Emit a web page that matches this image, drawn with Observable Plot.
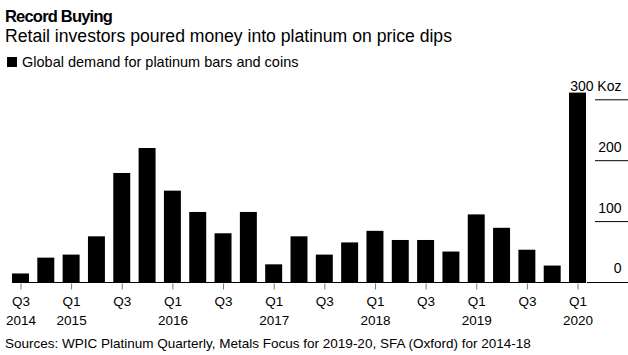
<!DOCTYPE html>
<html><head><meta charset="utf-8">
<script src="https://cdn.jsdelivr.net/npm/d3@7"></script>
<script src="https://cdn.jsdelivr.net/npm/@observablehq/plot@0.6"></script>
<style>
body{margin:0;background:#fff;font-family:"Liberation Sans",Arial,sans-serif;color:#000;}
#wrap{position:relative;width:628px;height:355px;overflow:hidden;background:#fff;}
.t{position:absolute;left:5px;line-height:1;white-space:nowrap;}
#title{top:7.5px;font-size:16.5px;font-weight:bold;letter-spacing:-0.8px;}
#sub{top:28px;font-size:17.6px;}
#leg{top:54.5px;left:22px;font-size:14.5px;}
#sq{position:absolute;left:7px;top:57px;width:10px;height:10px;background:#000;}
#src{top:337px;font-size:13.5px;}
#chart{position:absolute;left:0;top:72px;}
</style></head><body>
<div id="wrap">
<div class="t" id="title">Record Buying</div>
<div class="t" id="sub">Retail investors poured money into platinum on price dips</div>
<div id="sq"></div>
<div class="t" id="leg">Global demand for platinum bars and coins</div>
<div id="chart"></div>
<div class="t" id="src">Sources: WPIC Platinum Quarterly, Metals Focus for 2019-20, SFA (Oxford) for 2014-18</div>
</div>
<script>
const quarters = ["Q3 2014","Q4 2014",
  "Q1 2015","Q2 2015","Q3 2015","Q4 2015",
  "Q1 2016","Q2 2016","Q3 2016","Q4 2016",
  "Q1 2017","Q2 2017","Q3 2017","Q4 2017",
  "Q1 2018","Q2 2018","Q3 2018","Q4 2018",
  "Q1 2019","Q2 2019","Q3 2019","Q4 2019",
  "Q1 2020"];
const demand = [14,40, 45,75,179,220, 150,115,80,115, 29,75,45,65, 84,69,69,50, 111,89,53,27, 311];
const xTicks = ["Q3 2014","Q1 2015","Q3 2015","Q1 2016","Q3 2016","Q1 2017","Q3 2017","Q1 2018","Q3 2018","Q1 2019","Q3 2019","Q1 2020"];
const xTickLabels = ["Q3\n2014","Q1\n2015","Q3","Q1\n2016","Q3","Q1\n2017","Q3","Q1\n2018","Q3","Q1\n2019","Q3","Q1\n2020"];
const yTicks = [0,100,200,300];
const yGrid = [100,200,300];
const yUnit = "Koz";

const data = quarters.map((q,i)=>({q, v: demand[i]}));
const chart = Plot.plot({
  width: 628, height: 262,
  marginLeft: 12, marginRight: 42, marginTop: 27.3, marginBottom: 52,
  style: {fontFamily: '"Liberation Sans", Arial, sans-serif', fontSize: "13.5px", color: "#000", background: "#fff", overflow: "visible"},
  x: {type: "band", domain: quarters, paddingInner: 0.33, paddingOuter: 0, align: 0.5, round: false, axis: null, label: null},
  y: {domain: [0,300], axis: null, label: null},
  marks: [
    Plot.barY(data, {x: "q", y: "v", fill: "#000"}),
    Plot.ruleY([0], {stroke: "#000"}),
    Plot.axisY([0], {anchor: "right", label: null, tickSize: 42, tickFormat: () => "", stroke: "#000"}),
    Plot.axisY(yGrid, {anchor: "right", label: null, tickSize: 34, dx: 8, tickFormat: () => "", stroke: "#000"}),
    Plot.axisY(yTicks, {anchor: "right", label: null, tickSize: 0, tickPadding: 0, textAnchor: "end", dx: 35, dy: -13.5, fontSize: 14,
      tickFormat: d => d === 300 ? `${d} ${yUnit}` : `${d}`}),
    Plot.axisX(xTicks, {anchor: "bottom", label: null, tickSize: 6, tickPadding: 3, stroke: "#777", dy: 1.5, lineHeight: 1.38, fontSize: 13.5,
      tickFormat: d => xTickLabels[xTicks.indexOf(d)]})
  ]
});
document.getElementById("chart").appendChild(chart);
</script>
</body></html>
